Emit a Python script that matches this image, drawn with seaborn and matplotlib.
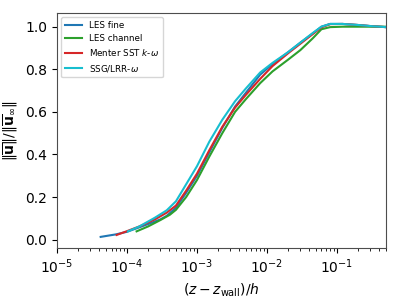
import numpy as np
import pandas as pd
import matplotlib
matplotlib.use("Agg")
import matplotlib.pyplot as plt
import matplotlib.ticker as mticker
import seaborn as sns

les_fine_x = [4.2e-5, 7e-5, 1e-4, 1.5e-4, 2.27e-4, 2.95e-4, 3.7e-4, 5e-4, 7e-4, 1e-3, 1.5e-3, 2.3e-3, 3.5e-3,
              5e-3, 8e-3, 1.2e-2, 2e-2, 3e-2, 4.5e-2, 6e-2, 8e-2, 1.2e-1, 2e-1, 3e-1, 5e-1]
les_fine_y = [0.013, 0.025, 0.037, 0.058, 0.08, 0.094, 0.112, 0.15, 0.22, 0.30, 0.41, 0.525, 0.625,
              0.69, 0.775, 0.825, 0.88, 0.925, 0.968, 1.0, 1.013, 1.013, 1.008, 1.003, 0.998]

les_chan_x = [1.37e-4, 2e-4, 3e-4, 4.1e-4, 5e-4, 7e-4, 1e-3, 1.5e-3, 2.3e-3, 3.5e-3, 5e-3, 8e-3,
              1.2e-2, 2e-2, 3e-2, 4.5e-2, 6e-2, 8e-2, 1.2e-1, 2e-1, 3e-1, 5e-1]
les_chan_y = [0.039, 0.062, 0.092, 0.117, 0.14, 0.2, 0.28, 0.39, 0.5, 0.6, 0.66, 0.735,
              0.79, 0.845, 0.89, 0.945, 0.988, 0.998, 1.0, 1.0, 1.0, 1.0]

sst_x = [7.1e-5, 1e-4, 1.5e-4, 2.5e-4, 3.7e-4, 5e-4, 7e-4, 1e-3, 1.5e-3, 2.3e-3, 3.5e-3, 5e-3,
         8e-3, 1.2e-2, 2e-2, 3e-2, 4.5e-2, 6e-2, 8e-2, 1.2e-1, 2e-1, 3e-1, 5e-1]
sst_y = [0.022, 0.04, 0.062, 0.095, 0.127, 0.16, 0.23, 0.31, 0.42, 0.53, 0.62, 0.68,
         0.755, 0.815, 0.875, 0.92, 0.965, 0.997, 1.012, 1.013, 1.008, 1.003, 0.998]

ssg_x = [1.03e-4, 1.5e-4, 2.5e-4, 3.7e-4, 5e-4, 7e-4, 1e-3, 1.5e-3, 2.3e-3, 3.5e-3, 5e-3, 8e-3,
         1.2e-2, 2e-2, 3e-2, 4.5e-2, 6e-2, 8e-2, 1.2e-1, 2e-1, 3e-1, 5e-1]
ssg_y = [0.039, 0.062, 0.103, 0.138, 0.18, 0.26, 0.345, 0.46, 0.563, 0.65, 0.71, 0.785,
         0.83, 0.88, 0.925, 0.97, 1.0, 1.013, 1.013, 1.008, 1.003, 0.998]

labels = ["LES fine", "LES channel", r"Menter SST $k$-$\omega$", r"SSG/LRR-$\omega$"]
colors = ["#1f77b4", "#2ca02c", "#d62728", "#17becf"]
series = [(les_fine_x, les_fine_y), (les_chan_x, les_chan_y), (sst_x, sst_y), (ssg_x, ssg_y)]

frames = []
for lab, (xs, ys) in zip(labels, series):
    frames.append(pd.DataFrame({"x": xs, "y": ys, "model": lab}))
df = pd.concat(frames, ignore_index=True)

plt.rcParams["font.family"] = ["DejaVu Sans"]

fig, ax = plt.subplots(figsize=(3.99, 2.99), dpi=100)
sns.lineplot(data=df, x="x", y="y", hue="model", hue_order=labels,
             palette=dict(zip(labels, colors)), sort=False, estimator=None,
             linewidth=1.5, ax=ax)
ax.set_xscale("log")
ax.set_xlim(1e-5, 0.5)
ax.set_ylim(-0.04, 1.065)
ax.set_yticks([0.0, 0.2, 0.4, 0.6, 0.8, 1.0])
ax.xaxis.set_minor_locator(mticker.LogLocator(base=10, subs=np.arange(2, 10), numticks=20))
ax.xaxis.set_minor_formatter(mticker.NullFormatter())
ax.set_xlabel(r"$(z - z_{\rm wall})/h$")
ax.set_ylabel(r"$\|\overline{\mathbf{u}}\| / \|\overline{\mathbf{u}}_\infty\|$")
for s in ax.spines.values():
    s.set_edgecolor("0.3")
    s.set_linewidth(0.8)
ax.legend(loc="upper left", fontsize=6.3, frameon=True, handlelength=2.0)
fig.subplots_adjust(left=0.143, right=0.967, top=0.957, bottom=0.17)
fig.savefig("out.png", dpi=100)
